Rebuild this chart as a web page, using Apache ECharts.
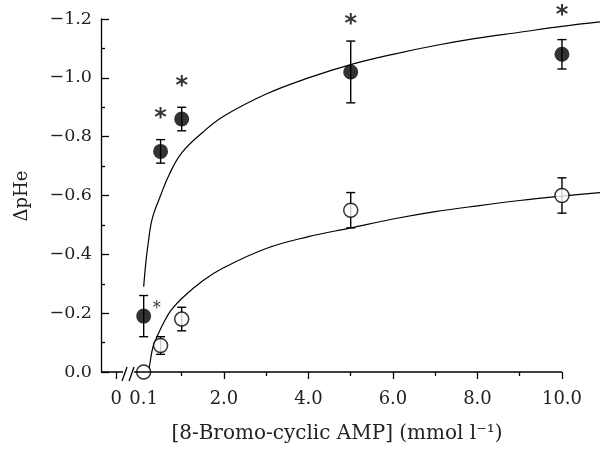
<!DOCTYPE html>
<html>
<head>
<meta charset="utf-8">
<script src="https://cdn.jsdelivr.net/npm/echarts@6/dist/echarts.min.js"></script>
<style>
  html, body { margin: 0; padding: 0; background: #fff; }
  #chart { width: 601px; height: 449px; }
</style>
</head>
<body>
<div id="chart"></div>
<script>
// concentrations (mmol l-1)
var conc = [0.1, 0.5, 1, 5, 10];
// filled circles, mean and error
var filledMean = [-0.19, -0.75, -0.86, -1.02, -1.08];
var filledErr = [0.07, 0.04, 0.04, 0.105, 0.05];
// open circles
var openMean = [0.0, -0.09, -0.18, -0.55, -0.60];
var openErr = [0, 0.03, 0.04, 0.06, 0.06];
// fitted curves
var upperX = [0.1, 0.15, 0.2, 0.3, 0.5, 0.7, 1, 1.5, 2, 3, 4, 5, 6, 7, 8, 9, 10, 10.9];
var upperY = [-0.29, -0.37, -0.43, -0.52, -0.60, -0.67, -0.745, -0.815, -0.87, -0.945, -1.0, -1.045, -1.08, -1.11, -1.135, -1.155, -1.175, -1.19];
var lowerX = [0.22, 0.26, 0.32, 0.43, 0.6, 0.75, 1, 1.5, 2, 3, 4, 5, 6, 7, 8, 9, 10, 10.9];
var lowerY = [0.0, -0.04, -0.085, -0.125, -0.175, -0.21, -0.25, -0.31, -0.355, -0.42, -0.46, -0.49, -0.52, -0.545, -0.565, -0.583, -0.598, -0.61];
// significance marks
var starX = [0.41, 0.5, 1, 5, 10];
var starY = [-0.23, -0.88, -0.99, -1.20, -1.23];
var starBig = [false, true, true, true, true];
// x axis ticks / labels
var xMajor = [-0.55, 2, 4, 6, 8, 10];
var xMinor = [1, 3, 5, 7, 9];
var xLabels = [-0.55, 0.1, 2, 4, 6, 8, 10];
var xStart = -0.91, xEnd = 10, xView = 10.9;
var breakAt = -0.27;

var font = 'DejaVu Serif';
var chart = echarts.init(document.getElementById('chart'));

function pairs(a, b) {
	var out = [];
	for (var i = 0; i < a.length; i++) out.push([a[i], b[i]]);
	return out;
}
function errData(m, e) {
	var out = [];
	for (var i = 0; i < conc.length; i++) {
		if (e[i] > 0) out.push([conc[i], m[i] - e[i], m[i] + e[i]]);
	}
	return out;
}
function renderErr(params, api) {
	var lo = api.coord([api.value(0), api.value(1)]);
	var hi = api.coord([api.value(0), api.value(2)]);
	var w = 4.5;
	var st = { stroke: '#000', lineWidth: 1.4 };
	return {
		type: 'group',
		children: [
			{ type: 'line', shape: { x1: lo[0], y1: lo[1], x2: hi[0], y2: hi[1] }, style: st },
			{ type: 'line', shape: { x1: lo[0] - w, y1: lo[1], x2: lo[0] + w, y2: lo[1] }, style: st },
			{ type: 'line', shape: { x1: hi[0] - w, y1: hi[1], x2: hi[0] + w, y2: hi[1] }, style: st }
		]
	};
}
var starData = [];
for (var i = 0; i < starX.length; i++) {
	starData.push({
		value: [starX[i], starY[i]],
		label: starBig[i] ? { fontSize: 24, fontWeight: 'bold', offset: [0, 6] } : { fontSize: 17, fontWeight: 'normal', offset: [0, 4] }
	});
}

var option = {
	animation: false,
	grid: { left: 101, right: 1, top: 19, bottom: 77 },
	xAxis: [{
		type: 'value', min: xStart, max: xView,
		axisLine: { show: false, onZero: false },
		axisTick: { show: true, inside: false, length: 7, customValues: xMajor, lineStyle: { color: '#000', width: 1.3 } },
		axisLabel: {
			customValues: xLabels, margin: 18, color: '#222', fontFamily: font, fontSize: 18,
			formatter: function(v) { return v < 0 ? '0' : v.toFixed(1); }
		},
		splitLine: { show: false }
	}, {
		type: 'value', min: xStart, max: xView, position: 'bottom',
		axisLine: { show: false, onZero: false },
		axisTick: { show: true, length: 4, customValues: xMinor, lineStyle: { color: '#000', width: 1.3 } },
		axisLabel: { show: false },
		splitLine: { show: false }
	}],
	yAxis: {
		type: 'value', min: -1.2, max: 0, interval: 0.2, inverse: true,
		axisLine: { show: true, onZero: false, lineStyle: { color: '#000', width: 1.3 } },
		axisTick: { show: true, inside: true, length: 8, lineStyle: { color: '#000', width: 1.3 } },
		minorTick: { show: true, splitNumber: 2, length: 4, lineStyle: { color: '#000', width: 1.3 } },
		axisLabel: {
			margin: 9, color: '#222', fontFamily: font, fontSize: 17.5,
			formatter: function(v) { return (v < 0 ? '\u2212' : '') + Math.abs(v).toFixed(1); }
		},
		splitLine: { show: false }
	},
	series: [
		{ type: 'line', data: pairs(upperX, upperY), smooth: 0.4, showSymbol: false, clip: false,
		  lineStyle: { color: '#000', width: 1.2 }, z: 1 },
		{ type: 'line', data: pairs(lowerX, lowerY), smooth: 0.4, showSymbol: false, clip: false,
		  lineStyle: { color: '#000', width: 1.2 }, z: 1 },
		{ type: 'custom', data: errData(filledMean, filledErr), renderItem: renderErr, clip: false, z: 2 },
		{ type: 'custom', data: errData(openMean, openErr), renderItem: renderErr, clip: false, z: 2 },
		{ type: 'scatter', data: pairs(conc, filledMean), symbol: 'circle', symbolSize: 15,
		  itemStyle: { color: '#000' }, clip: false, z: 3 },
		{ type: 'scatter', data: pairs(conc, openMean), symbol: 'circle', symbolSize: 14,
		  itemStyle: { color: '#fff', borderColor: '#000', borderWidth: 1.5 }, clip: false, z: 3 },
		{ type: 'scatter', data: starData, symbolSize: 1, itemStyle: { color: 'rgba(0,0,0,0)' }, clip: false, z: 4,
		  label: { show: true, position: 'inside', formatter: '*', color: '#000', fontFamily: 'DejaVu Sans' } }
	]
};
chart.setOption(option);

// x axis line (stops at 10), axis break, name texts
var a0 = chart.convertToPixel({ xAxisIndex: 0, yAxisIndex: 0 }, [xStart, 0]);
var a1 = chart.convertToPixel({ xAxisIndex: 0, yAxisIndex: 0 }, [xEnd, 0]);
var b = chart.convertToPixel({ xAxisIndex: 0, yAxisIndex: 0 }, [breakAt, 0]);
chart.setOption({
	graphic: [
		{ type: 'line', shape: { x1: a0[0], y1: a0[1], x2: a1[0], y2: a1[1] }, style: { stroke: '#000', lineWidth: 1.3 }, z: 9 },
		{ type: 'rect', shape: { x: b[0] - 5, y: b[1] - 2, width: 11, height: 4 }, style: { fill: '#fff' }, z: 10 },
		{ type: 'line', shape: { x1: b[0] - 6, y1: b[1] + 9, x2: b[0] - 1, y2: b[1] - 5 }, style: { stroke: '#000', lineWidth: 1.3 }, z: 11 },
		{ type: 'line', shape: { x1: b[0] + 1, y1: b[1] + 9, x2: b[0] + 6, y2: b[1] - 5 }, style: { stroke: '#000', lineWidth: 1.3 }, z: 11 },
		{ type: 'text', x: 337, y: 434, style: { text: '[8-Bromo-cyclic AMP] (mmol l\u207B\u00B9)', font: '20px "DejaVu Serif"', fill: '#222', textAlign: 'center', textVerticalAlign: 'middle' } },
		{ type: 'text', x: 22, y: 196, rotation: Math.PI / 2, style: { text: '\u0394pHe', font: '18px "DejaVu Serif"', fill: '#222', textAlign: 'center', textVerticalAlign: 'middle' } }
	]
});
</script>
</body>
</html>
